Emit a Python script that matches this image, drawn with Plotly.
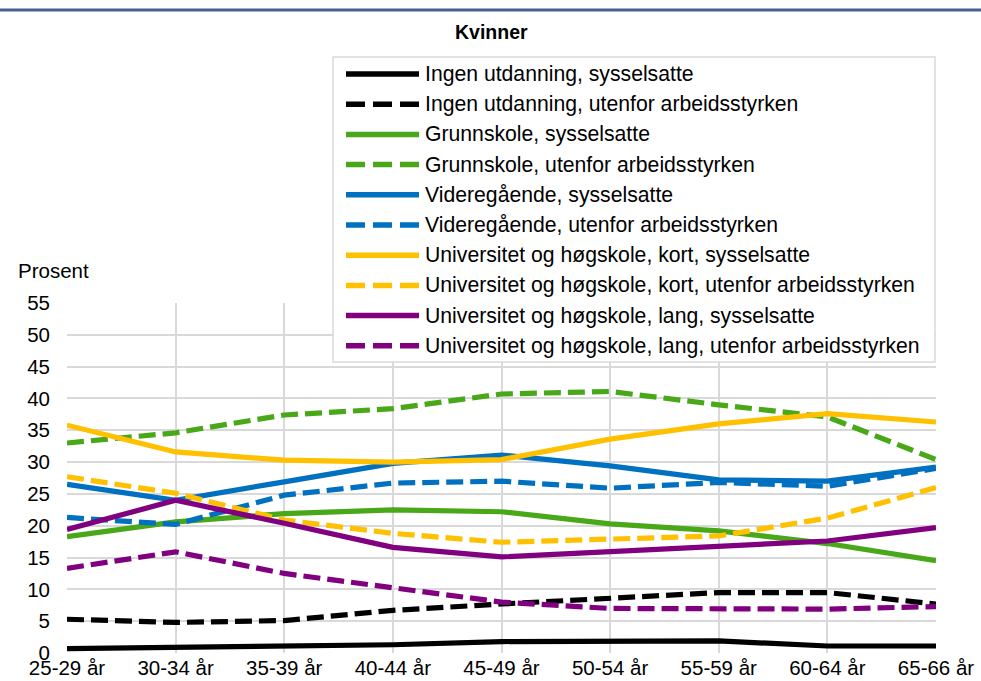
import plotly.graph_objects as go

# ---------------- data ----------------
categories = ["25-29 år", "30-34 år", "35-39 år", "40-44 år", "45-49 år",
              "50-54 år", "55-59 år", "60-64 år", "65-66 år"]

ingen_syss = [0.7, 0.9, 1.2, 1.3, 1.8, 1.8, 1.9, 1.1, 1.1]
ingen_utenfor = [5.3, 4.8, 5.1, 6.7, 7.7, 8.7, 9.5, 9.5, 7.7]
grunn_syss = [18.3, 20.6, 21.9, 22.5, 22.2, 20.3, 19.2, 17.2, 14.5]
grunn_utenfor = [33.0, 34.6, 37.4, 38.4, 40.7, 41.1, 39.0, 37.1, 30.4]
vgs_syss = [26.5, 24.0, 26.9, 29.8, 31.1, 29.4, 27.2, 27.0, 29.2]
vgs_utenfor = [21.3, 20.2, 24.8, 26.7, 27.0, 25.9, 26.8, 26.2, 29.0]
uhk_syss = [35.8, 31.6, 30.3, 30.0, 30.4, 33.6, 36.0, 37.6, 36.3]
uhk_utenfor = [27.7, 25.1, 20.9, 18.8, 17.4, 17.8, 18.4, 21.2, 26.0]
uhl_syss = [19.4, 24.0, 20.4, 16.6, 15.1, 15.9, 16.7, 17.6, 19.7]
uhl_utenfor = [13.3, 15.9, 12.5, 10.2, 8.0, 7.0, 6.9, 6.9, 7.3]

series_names = [
    "Ingen utdanning, sysselsatte",
    "Ingen utdanning, utenfor arbeidsstyrken",
    "Grunnskole, sysselsatte",
    "Grunnskole, utenfor arbeidsstyrken",
    "Videregående, sysselsatte",
    "Videregående, utenfor arbeidsstyrken",
    "Universitet og høgskole, kort, sysselsatte",
    "Universitet og høgskole, kort, utenfor arbeidsstyrken",
    "Universitet og høgskole, lang, sysselsatte",
    "Universitet og høgskole, lang, utenfor arbeidsstyrken",
]
series_values = [ingen_syss, ingen_utenfor, grunn_syss, grunn_utenfor,
                 vgs_syss, vgs_utenfor, uhk_syss, uhk_utenfor,
                 uhl_syss, uhl_utenfor]

y_ticks = [0, 5, 10, 15, 20, 25, 30, 35, 40, 45, 50, 55]

# ---------------- styles ----------------
BLACK = "#000000"
GREEN = "#48A818"
BLUE = "#0070C0"
YELLOW = "#FFC000"
PURPLE = "#800080"
colors = [BLACK, BLACK, GREEN, GREEN, BLUE, BLUE, YELLOW, YELLOW, PURPLE, PURPLE]
dashes = ["solid", "17px,7px"] * 5
FONT = "Liberation Sans, Arial, sans-serif"

W, H = 981, 681
L, R, T, B = 67, 45, 303, 28
PW, PH = W - L - R, H - T - B


def px(x):
    return (x - L) / PW


def py(y):
    return (H - B - y) / PH


fig = go.Figure()
for name, vals, c, d in zip(series_names, series_values, colors, dashes):
    fig.add_trace(go.Scatter(
        x=categories, y=vals, name=name, mode="lines",
        line=dict(color=c, width=5.2, dash=d),
        showlegend=False,
    ))

shapes = []
annotations = []

# top rule
shapes.append(dict(type="line", xref="paper", yref="paper",
                   x0=px(0), x1=px(W), y0=py(10), y1=py(10),
                   line=dict(color="#44618F", width=3)))

# legend box
shapes.append(dict(type="rect", xref="paper", yref="paper", layer="above",
                   x0=px(333), x1=px(935), y0=py(362), y1=py(57),
                   fillcolor="white", line=dict(color="#D9D9D9", width=1.5)))
for i, (name, c, d) in enumerate(zip(series_names, colors, dashes)):
    yy = 74 + i * 30.2
    shapes.append(dict(type="line", xref="paper", yref="paper", layer="above",
                       x0=px(346), x1=px(419), y0=py(yy), y1=py(yy),
                       line=dict(color=c, width=5.5,
                                 dash="solid" if d == "solid" else "19px,8px")))
    annotations.append(dict(xref="paper", yref="paper", x=px(423), y=py(yy),
                            xanchor="left", yanchor="middle", showarrow=False,
                            text=name, font=dict(family=FONT, size=21.2, color="#000")))

annotations.append(dict(xref="paper", yref="paper", x=px(491), y=py(32),
                        xanchor="center", yanchor="middle", showarrow=False,
                        text="<b>Kvinner</b>",
                        font=dict(family=FONT, size=19.5, color="#000")))
annotations.append(dict(xref="paper", yref="paper", x=px(16), y=py(270),
                        xanchor="left", yanchor="middle", showarrow=False,
                        text="Prosent",
                        font=dict(family=FONT, size=20.5, color="#000")))

fig.update_layout(
    width=W, height=H,
    margin=dict(l=L, r=R, t=T, b=B, pad=0, autoexpand=False),
    paper_bgcolor="white", plot_bgcolor="white",
    font=dict(family=FONT, size=20.5, color="#000"),
    shapes=shapes, annotations=annotations,
    xaxis=dict(type="category", range=[0, len(categories) - 1],
               automargin=False,
               showgrid=True, gridcolor="#D9D9D9", gridwidth=2,
               zeroline=False, showline=False, ticks="",
               ticklabelstandoff=0,
               tickfont=dict(family=FONT, size=20.5, color="#000")),
    yaxis=dict(range=[0, 55], tickvals=y_ticks,
               automargin=False,
               showgrid=True, gridcolor="#D9D9D9", gridwidth=2,
               zeroline=False, showline=False, ticks="",
               ticklabelstandoff=16,
               tickfont=dict(family=FONT, size=20.5, color="#000")),
)

page_fix = (
    "document.documentElement.style.margin='0';"
    "document.documentElement.style.padding='0';"
    "document.documentElement.style.overflow='hidden';"
    "document.body.style.margin='0';"
    "document.body.style.padding='0';"
    "document.body.style.overflow='hidden';"
    "var gd=document.getElementById('{plot_id}');"
    "gd.style.position='fixed';gd.style.top='0px';gd.style.left='0px';"
)

fig.write_html("out.html", config={"displayModeBar": False}, post_script=page_fix)
